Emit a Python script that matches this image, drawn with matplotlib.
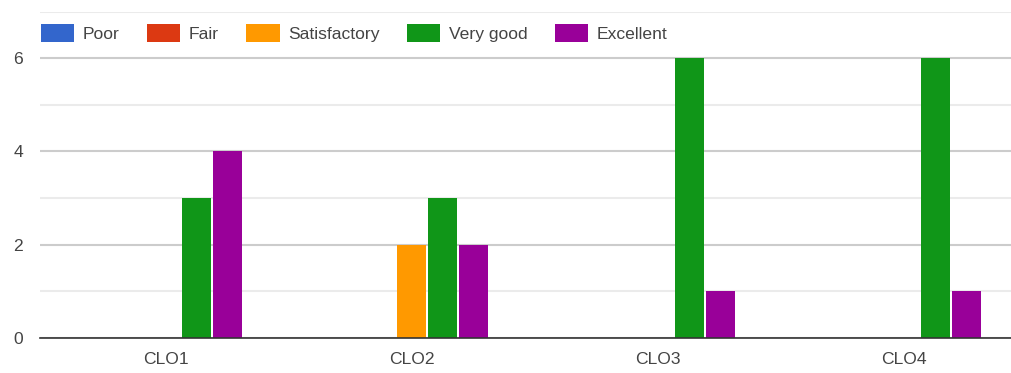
import numpy as np
import matplotlib
matplotlib.use("Agg")
import matplotlib.pyplot as plt

# Data
categories = ["CLO1", "CLO2", "CLO3", "CLO4"]
ratings = ["Poor", "Fair", "Satisfactory", "Very good", "Excellent"]
poor = [0, 0, 0, 0]
fair = [0, 0, 0, 0]
satisfactory = [0, 2, 0, 0]
very_good = [3, 3, 6, 6]
excellent = [4, 2, 1, 1]
colors = ["#3366cc", "#dc3912", "#ff9900", "#109618", "#990099"]

series = [poor, fair, satisfactory, very_good, excellent]

plt.rcParams["font.family"] = ["Liberation Sans", "DejaVu Sans"]
text_color = "#444444"
fs = 12.6

fig = plt.figure(figsize=(10.11, 3.73), dpi=100)
ax = fig.add_axes([40 / 1011, 0.0946, 971 / 1011, 0.874])

x = np.arange(len(categories))
slot = 0.1259
width = 0.1177
for j, (name, vals) in enumerate(zip(ratings, series)):
    ax.bar(x + (j - 2) * slot, vals, width, color=colors[j], label=name,
           linewidth=0, zorder=3)

ax.set_xlim(-0.5095, 3.433)
ax.set_ylim(0, 7)
ax.set_yticks([0, 2, 4, 6])
ax.set_yticks([1, 3, 5, 7], minor=True)
ax.set_xticks(x)
ax.set_xticklabels(categories)

ax.grid(axis="y", which="major", color="#cccccc", linewidth=1.5, zorder=0)
ax.grid(axis="y", which="minor", color="#ebebeb", linewidth=1.5, zorder=0)
ax.tick_params(axis="both", which="both", length=0, labelsize=fs, colors=text_color)
ax.tick_params(axis="x", pad=10)
ax.tick_params(axis="y", pad=12)

for s in ["top", "right", "left"]:
    ax.spines[s].set_visible(False)
ax.spines["bottom"].set_color("#333333")
ax.spines["bottom"].set_linewidth(1.2)
ax.spines["bottom"].set_zorder(4)

leg = ax.legend(loc="center left", bbox_to_anchor=(40.7 / 1011, (373 - 33.3) / 373),
                bbox_transform=fig.transFigure, ncol=5, frameon=False,
                fontsize=fs, handlelength=1.9, handleheight=1.15,
                handletextpad=0.5, columnspacing=1.56, borderpad=0,
                borderaxespad=0, labelcolor=text_color)

fig.savefig("out.png", dpi=100, facecolor="white")
